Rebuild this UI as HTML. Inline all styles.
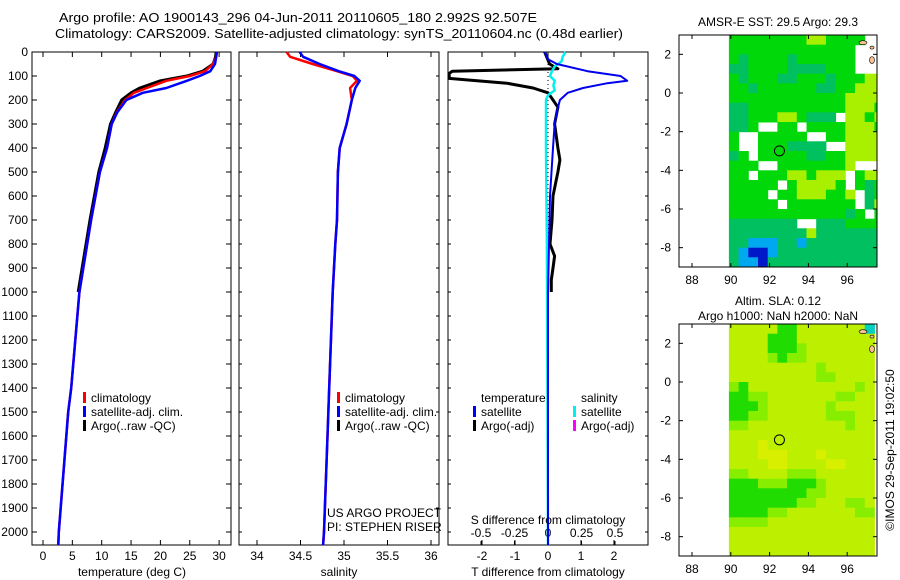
<!DOCTYPE html>
<html><head><meta charset="utf-8"><style>
html,body{margin:0;padding:0;background:#fff}
svg{display:block;font-family:"Liberation Sans",sans-serif;font-size:12px}
</style></head><body>
<svg id="fig" width="900" height="580" viewBox="0 0 900 580" xmlns="http://www.w3.org/2000/svg">
<text x="59" y="22" font-size="13" textLength="478" lengthAdjust="spacingAndGlyphs">Argo profile: AO 1900143_296 04-Jun-2011 20110605_180 2.992S 92.507E</text>
<text x="55" y="38" font-size="13" textLength="568" lengthAdjust="spacingAndGlyphs">Climatology: CARS2009. Satellite-adjusted climatology: synTS_20110604.nc (0.48d earlier)</text>
<g id="g1"></g>
<g id="g2"></g>
<g id="g3"></g>
<g id="m1"></g>
<g id="m2"></g>
<text x="778" y="26" text-anchor="middle">AMSR-E SST: 29.5 Argo: 29.3</text>
<text x="778" y="305" text-anchor="middle">Altim. SLA: 0.12</text>
<text x="778" y="320" text-anchor="middle">Argo h1000: NaN h2000: NaN</text>
<text transform="translate(894,450) rotate(-90)" text-anchor="middle">©IMOS 29-Sep-2011 19:02:50</text>
</svg>
<script>
// ---- data ----
const depthTicks=[0,100,200,300,400,500,600,700,800,900,1000,1100,1200,1300,1400,1500,1600,1700,1800,1900,2000];
const tempTicks=[0,5,10,15,20,25,30];
const salTicks=[34,34.5,35,35.5,36];
const tdTicks=[-2,-1,0,1,2];
const sdTicks=[-0.5,-0.25,0,0.25,0.5];
const tDepth=[0,20,50,80,100,120,150,170,200,250,300,400,500,700,1000,1400,1500,2000,2054];
const tClim=[29.6,29.5,29.0,27.6,25.0,21.0,17.7,15.5,14.0,12.6,11.7,10.9,9.7,8.2,6.2,4.8,4.3,2.7,2.6];
const tSat=[29.6,29.5,29.3,28.5,26.7,24.5,21.0,17.0,14.2,12.7,11.7,10.9,9.7,8.2,6.2,4.8,4.3,2.7,2.6];
const argoDepth=[0,20,50,80,100,120,150,170,200,250,300,400,500,700,1000];
const tArgo=[29.5,29.4,29.0,27.2,24.5,20.0,16.5,15.0,13.4,12.4,11.5,10.6,9.5,8.0,6.0];
const sDepth=[0,20,50,80,100,120,150,200,300,400,500,700,800,1000,1400,1600,2000,2054];
const sClim=[34.34,34.38,34.64,34.92,35.10,35.15,35.07,35.09,35.03,34.95,34.93,34.92,34.90,34.87,34.83,34.81,34.77,34.76];
const sSat=[34.49,34.53,34.72,34.94,35.12,35.18,35.13,35.09,35.03,34.95,34.93,34.92,34.90,34.87,34.83,34.81,34.77,34.76];
const dDepth=[0,30,50,80,100,120,130,150,170,200,250,300,400,600,1000,2054];
const tdSat=[-0.1,0,0.27,1.2,2.2,2.4,1.8,1.06,0.6,0.36,0.27,0.2,0.15,0.06,0,0];
const adDepth=[0,50,70,80,90,110,130,150,170,200,230,300,400,450,500,600,700,800,850,900,950,1000];
const tdArgo=[-0.1,0.05,0.3,-2.9,-3.0,-3.0,-1.25,-0.45,0,0.15,0.3,0.2,0.3,0.36,0.3,0.15,0.12,0.06,0.2,0.15,0.1,0.1];
const csDepth=[0,20,40,60,80,100,120,140,160,180,200,400,800,2054];
const sdSat=[0.13,0.11,0.1,0.05,0.03,0.015,0.05,0.04,0.05,0,-0.015,-0.015,-0.008,0];
const lonTicks=[88,90,92,94,96];
const latTicks=[2,0,-2,-4,-6,-8];
// map grids: 0.5 deg cells, lon 90..97.5, lat 3..-8.5 (row top edges); '.'=NaN
const sstRows=[
"33333333443333..","3333333333333...","3233332333333...","2233332222333...",
"3233322333233344","3323333332233444","3333333333334444","2233333333334443",
"22333443222.4434","223..33.33334443","3..33333..334444","3..3332222..4444",
"23.3333322334444","333..33333334...","33.333443444.344","33333.344443.323",
"3333.33444334.23","33333.3333333.24","33333333333323.3","2222222..2223333",
"22222222422222222","2211122122222222","2100122222222222","2110222222222222"];
const slaRows=[
"555553355555551","555533355555555","555533345555555","555543445555555",
"555555555455555","555555555445555","435555555555545","334455555554455",
"333455555545555","334455555544455","445555555555455","555555555555555",
"555655555555555","555666555655555","555566555566555","445555444555555",
"333444333455555","333333334455555","333333344555445","333344555555544",
"444455555555555","555555555555555","555555555555555","555555555555555"];
const sstColors={"0":"#0018c8","1":"#00a8f0","2":"#00c060","3":"#00d80a","4":"#a8f000"};
const slaColors={"1":"#00d0c0","3":"#20dc00","4":"#88ee00","5":"#bcf000","6":"#d8f000"};

// ---- helpers ----
const NS="http://www.w3.org/2000/svg";
function mk(parent,tag,attrs,txt){const e=document.createElementNS(NS,tag);for(const k in attrs)e.setAttribute(k,attrs[k]);if(txt!==undefined)e.textContent=txt;parent.appendChild(e);return e;}
const yTop=52,yBot=545;
const yD=d=>yTop+d*0.24;

function panel(g,x0,x1,name){
  const r=mk(g,'rect',{x:x0,y:yTop,width:x1-x0,height:yBot-yTop,fill:'none',stroke:'#000','stroke-width':1});
  
  
}
function xticks(g,ticks,fx,labelY,name,labels){
  ticks.forEach((t,i)=>{const x=fx(t);
    mk(g,'line',{x1:x,x2:x,y1:yTop,y2:yTop+5,stroke:'#000'});
    mk(g,'line',{x1:x,x2:x,y1:yBot,y2:yBot-5,stroke:'#000'});
    if(labelY){const tx=mk(g,'text',{x:x,y:labelY,'text-anchor':'middle'},labels?labels[i]:String(t));
      
      }
  });
}
function line(g,xs,ds,fx,color,w,name){
  const pts=xs.map((v,i)=>fx(v).toFixed(1)+','+yD(ds[i]).toFixed(1)).join(' ');
  const p=mk(g,'polyline',{points:pts,fill:'none',stroke:color,'stroke-width':w,'stroke-linejoin':'round'});
  
  
}
function legend(g,x,y,color,label,name){
  mk(g,'rect',{x:x,y:y-10,width:3,height:11,fill:color});
  const t=mk(g,'text',{x:x+8,y:y},label);
  
  
}

// ---- panel 1 temperature ----
const g1=document.getElementById('g1');
const fT=t=>43+t*5.87;
panel(g1,32,231,'temperature');
depthTicks.forEach(d=>{const y=yD(d);
  mk(g1,'line',{x1:32,x2:37,y1:y,y2:y,stroke:'#000'});
  mk(g1,'line',{x1:231,x2:226,y1:y,y2:y,stroke:'#000'});
  const t=mk(g1,'text',{x:28,y:y+4,'text-anchor':'end'},String(d));
  
  
});
xticks(g1,tempTicks,fT,560,'temperature');
line(g1,tArgo,argoDepth,fT,'#000',3,'temperature-argo-line');
line(g1,tClim,tDepth,fT,'#f00',2.5,'temperature-climatology-line');
line(g1,tSat,tDepth,fT,'#00f',2.5,'temperature-satellite-line');
mk(g1,'text',{x:132,y:576,'text-anchor':'middle'},'temperature (deg C)');
legend(g1,83,402,'#f00','climatology','legend-climatology');
legend(g1,83,416,'#00f','satellite-adj. clim.','legend-satellite');
legend(g1,83,430,'#000','Argo(..raw -QC)','legend-argo');

// ---- panel 2 salinity ----
const g2=document.getElementById('g2');
const fS=s=>257+(s-34)*87;
panel(g2,239,439,'salinity');
depthTicks.forEach(d=>{const y=yD(d);
  mk(g2,'line',{x1:239,x2:242,y1:y,y2:y,stroke:'#000'});
  mk(g2,'line',{x1:439,x2:436,y1:y,y2:y,stroke:'#000'});});
xticks(g2,salTicks,fS,560,'salinity');
line(g2,sClim,sDepth,fS,'#f00',2.5,'salinity-climatology-line');
line(g2,sSat,sDepth,fS,'#00f',2.5,'salinity-satellite-line');
mk(g2,'text',{x:339,y:576,'text-anchor':'middle'},'salinity');
legend(g2,337,402,'#f00','climatology','legend-climatology-2');
legend(g2,337,416,'#00f','satellite-adj. clim.','legend-satellite-2');
legend(g2,337,430,'#000','Argo(..raw -QC)','legend-argo-2');
mk(g2,'text',{x:327,y:517},'US ARGO PROJECT');
mk(g2,'text',{x:327,y:531},'PI: STEPHEN RISER');

// ---- panel 3 differences ----
const g3=document.getElementById('g3');
const fTD=v=>Math.max(449,548+v*33);
const fSD=v=>548+v*134;
panel(g3,448,648,'difference');
depthTicks.forEach(d=>{const y=yD(d);
  mk(g3,'line',{x1:448,x2:451,y1:y,y2:y,stroke:'#000'});
  mk(g3,'line',{x1:648,x2:645,y1:y,y2:y,stroke:'#000'});});
xticks(g3,tdTicks,fTD,560,'t-difference');
sdTicks.forEach((t,i)=>{const x=fSD(t);
  mk(g3,'line',{x1:x,x2:x,y1:yBot,y2:yBot-4,stroke:'#000'});
  const tx=mk(g3,'text',{x:x,y:537,'text-anchor':'middle'},String(t));
  
  });
mk(g3,'line',{x1:548,x2:548,y1:yTop,y2:yBot,stroke:'#000','stroke-dasharray':'1,3'});
line(g3,tdArgo,adDepth,fTD,'#000',3,'t-difference-argo-line');
line(g3,sdSat,csDepth,fSD,'#00f0f0',2.5,'s-difference-satellite-line');
line(g3,tdSat,dDepth,fTD,'#0000f0',2,'t-difference-satellite-line');
mk(g3,'text',{x:548,y:524,'text-anchor':'middle'},'S difference from climatology');
mk(g3,'text',{x:548,y:576,'text-anchor':'middle'},'T difference from climatology');
mk(g3,'text',{x:481,y:402},'temperature');
mk(g3,'text',{x:581,y:402},'salinity');
legend(g3,473,416,'#00f','satellite','legend-t-satellite');
legend(g3,473,430,'#000','Argo(-adj)','legend-t-argo');
legend(g3,573,416,'#00f0f0','satellite','legend-s-satellite');
legend(g3,573,430,'#f0f','Argo(-adj)','legend-s-argo');

// ---- maps ----
function map(g,top,bot,rows,colors,pfx){
  const x0=679,x1=877;
  const fx=l=>692+(l-88)*19.4;
  const fy=la=>top+(3-la)*((bot-top)/12);
  rows.forEach((row,r)=>{for(let c=0;c<16;c++){const ch=row[c];if(!ch||ch==='.')continue;
    const lon=89.9+c*0.5, lat=3-r*0.5;
    const cx=fx(lon), cw=Math.min(fx(lon+0.5),x1)-cx;
    if(cw<=0)continue;
    const cell=mk(g,'rect',{x:cx.toFixed(1),y:fy(lat).toFixed(1),width:(cw+0.5).toFixed(1),height:((bot-top)/24+0.5).toFixed(1),fill:colors[ch]||'#fff'});
    
    }});
  // land
  [[863,fy(2.6),4,2],[872,fy(2.35),2,1.5],[872,fy(1.7),2.5,3.5]].forEach(l=>{mk(g,'ellipse',{cx:l[0],cy:l[1],rx:l[2],ry:l[3],fill:'#f8c090',stroke:'#000','stroke-width':0.6});});
  const fr=mk(g,'rect',{x:x0,y:top,width:x1-x0,height:bot-top,fill:'none',stroke:'#000'});
  
  
  lonTicks.forEach(l=>{const x=fx(l);
    mk(g,'line',{x1:x,x2:x,y1:top,y2:top+4,stroke:'#000'});
    mk(g,'line',{x1:x,x2:x,y1:bot,y2:bot-4,stroke:'#000'});
    const t=mk(g,'text',{x:x,y:bot+17,'text-anchor':'middle'},String(l));
    
    });
  latTicks.forEach(l=>{const y=fy(l);
    mk(g,'line',{x1:x0,x2:x0+4,y1:y,y2:y,stroke:'#000'});
    mk(g,'line',{x1:x1,x2:x1-4,y1:y,y2:y,stroke:'#000'});
    const t=mk(g,'text',{x:671,y:y+4,'text-anchor':'end'},String(l));
    
    });
  const c=mk(g,'circle',{cx:fx(92.507),cy:fy(-2.992),r:5,fill:'none',stroke:'#000'});
  
  
}
map(document.getElementById('m1'),35,267,sstRows,sstColors,'sst-map');
map(document.getElementById('m2'),324,556,slaRows,slaColors,'sla-map');
</script>
</body></html>
